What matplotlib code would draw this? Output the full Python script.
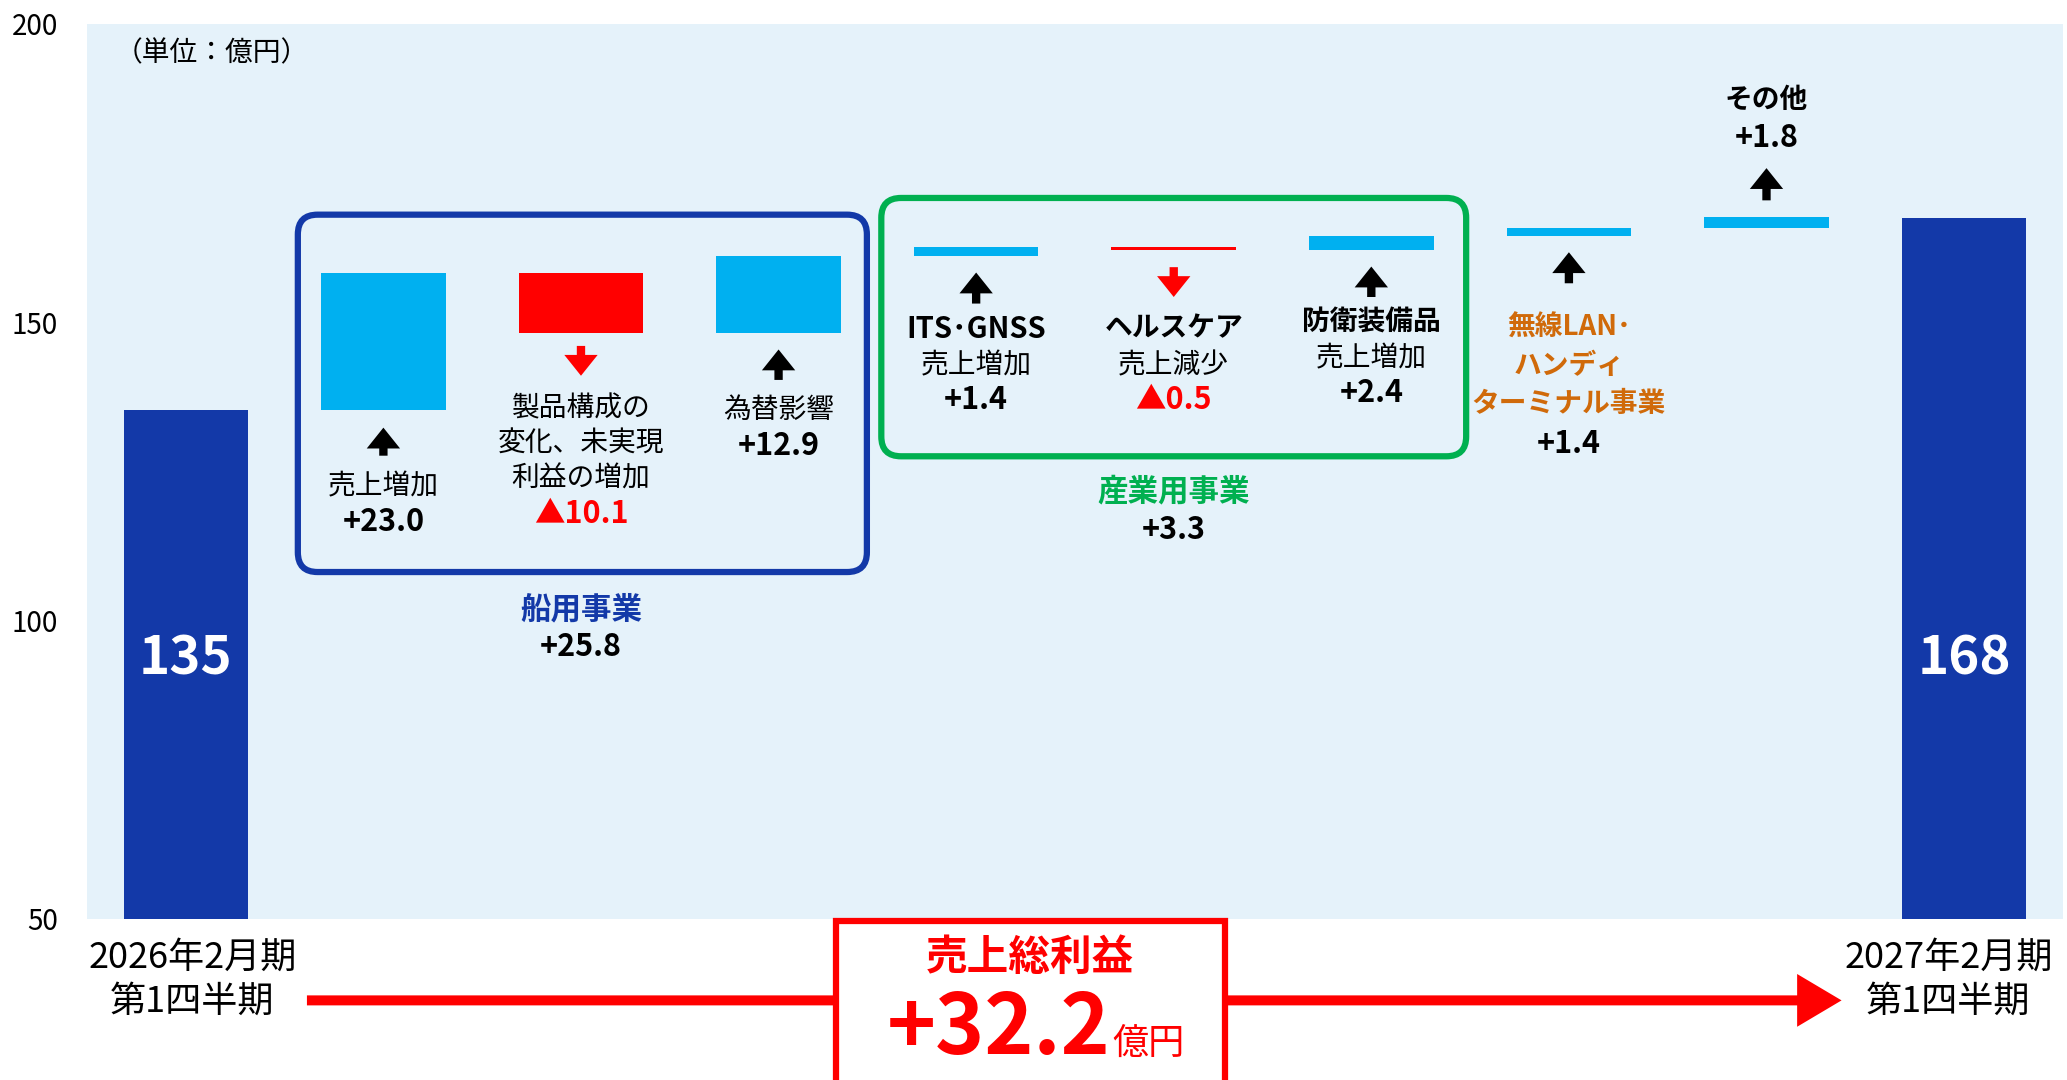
import matplotlib
matplotlib.use('Agg')
import numpy as np
import matplotlib.pyplot as plt
from matplotlib.patches import FancyBboxPatch, Rectangle

plt.rcParams['font.family'] = ['Noto Sans CJK JP', 'DejaVu Sans']

# data (億円)
categories = ['2026年2月期\n第1四半期', '売上増加', '製品構成の変化、未実現利益の増加',
              '為替影響', 'ITS･GNSS', 'ヘルスケア', '防衛装備品',
              '無線LAN･ハンディターミナル事業', 'その他', '2027年2月期\n第1四半期']
start_value = 135.3
deltas = [23.0, -10.1, 12.9, 1.4, -0.5, 2.4, 1.4, 1.8]
end_value = 167.5
end_labels = ['135', '168']
delta_labels = ['+23.0', '▲10.1', '+12.9', '+1.4', '▲0.5', '+2.4', '+1.4', '+1.8']
total_label = '+32.2'
marine_total = '+25.8'
industrial_total = '+3.3'

# colours
c_end = '#1339A8'
c_up = '#00B0F0'
c_down = '#FF0000'
c_bg = '#E5F2FA'
c_green = '#00B050'
c_orange = '#D06A0A'

fig = plt.figure(figsize=(20.67, 10.8), dpi=100)
ax = fig.add_axes([0.0421, 0.1494, 0.9559, 0.8286])
ax.set_facecolor(c_bg)
for s in ax.spines.values():
    s.set_visible(False)

x = np.arange(len(categories))
levels = start_value + np.cumsum(deltas)
prev = np.concatenate([[start_value], levels[:-1]])
bottoms = np.minimum(prev, levels)
heights = np.abs(np.array(deltas))
colors = [c_up if d > 0 else c_down for d in deltas]

bw = 0.63
ax.bar(x[0], start_value, width=bw, color=c_end, zorder=2)
ax.bar(x[-1], end_value, width=bw, color=c_end, zorder=2)
ax.bar(x[1:-1], heights, bottom=bottoms, width=bw, color=colors, zorder=2)

ax.set_xlim(-0.5, 9.5)
ax.set_ylim(50, 200)
ax.set_xticks([])
ax.set_yticks([50, 100, 150, 200])
ax.tick_params(axis='y', length=0, pad=21, labelsize=20)

# big numbers inside the end bars
ax.text(x[0], 93.5, end_labels[0], ha='center', va='center', color='white',
        fontsize=38, fontweight='bold', zorder=3)
ax.text(x[-1], 93.5, end_labels[1], ha='center', va='center', color='white',
        fontsize=38, fontweight='bold', zorder=3)

ax.text(-0.36, 195.1, '（単位：億円）', ha='left', va='center', fontsize=20)

# arrows
def arrow(xp, ytail, ytip, col='black'):
    ax.annotate('', xy=(xp, ytip), xytext=(xp, ytail),
                arrowprops=dict(arrowstyle='simple,head_length=0.75,head_width=1.2,tail_width=0.3',
                                mutation_scale=20, lw=0, color=col,
                                shrinkA=0, shrinkB=0), zorder=4)

def label(xp, yp, s, col='black', size=20, bold=False):
    ax.text(xp, yp, s, ha='center', va='center', color=col, fontsize=size,
            fontweight='bold' if bold else 'normal', zorder=4)

# 船用事業
arrow(1, 127.6, 132.3)
label(1, 122.5, '売上増加')
label(1, 116.5, delta_labels[0], size=22, bold=True)
arrow(2, 146.0, 141.0, c_down)
label(2, 135.5, '製品構成の')
label(2, 129.6, '変化、未実現')
label(2, 123.8, '利益の増加')
label(2, 117.8, delta_labels[1], col=c_down, size=22, bold=True)
arrow(3, 140.3, 145.4)
label(3, 135.3, '為替影響')
label(3, 129.3, delta_labels[2], size=22, bold=True)
label(2, 101.9, '船用事業', col=c_end, size=22, bold=True)
label(2, 95.5, marine_total, size=22, bold=True)

# 産業用事業
arrow(4, 153.1, 158.3)
label(4, 148.8, 'ITS･GNSS', size=21, bold=True)
label(4, 142.8, '売上増加')
label(4, 137.0, delta_labels[3], size=22, bold=True)
arrow(5, 159.2, 154.2, c_down)
label(5, 149.0, 'ヘルスケア', bold=True)
label(5, 142.8, '売上減少')
label(5, 137.0, delta_labels[4], col=c_down, size=22, bold=True)
arrow(6, 154.2, 159.3)
label(6, 149.9, '防衛装備品', bold=True)
label(6, 143.9, '売上増加')
label(6, 138.1, delta_labels[5], size=22, bold=True)
label(5, 121.6, '産業用事業', col=c_green, size=22, bold=True)
label(5, 115.2, industrial_total, size=22, bold=True)

# 無線LAN
arrow(7, 156.5, 161.7)
label(7, 149.0, '無線LAN･', col=c_orange, bold=True)
label(7, 142.6, 'ハンディ', col=c_orange, bold=True)
label(7, 136.2, 'ターミナル事業', col=c_orange, bold=True)
label(7, 129.5, delta_labels[6], size=22, bold=True)

# その他
label(8, 187.2, 'その他', bold=True)
label(8, 180.8, delta_labels[7], size=22, bold=True)
arrow(8, 170.4, 175.8)

# rounded group boxes (keep corners round in pixels)
fig.canvas.draw()
bb = ax.get_window_extent()
aspect = (150.0 / bb.height) / (10.0 / bb.width)
marine_box = FancyBboxPatch((0.567, 108.1), 3.447 - 0.567, 168.0 - 108.1,
                            boxstyle='round,pad=0,rounding_size=0.1',
                            mutation_aspect=aspect, fill=False, ec=c_end, lw=4.5, zorder=3)
ax.add_patch(marine_box)
ind_box = FancyBboxPatch((3.52, 127.5), 6.48 - 3.52, 170.8 - 127.5,
                         boxstyle='round,pad=0,rounding_size=0.1',
                         mutation_aspect=aspect, fill=False, ec=c_green, lw=4.5, zorder=3)
ax.add_patch(ind_box)

# bottom: period labels, red arrow and total box
ax.text(0.033, 43.4, '2026年2月期', ha='center', va='center', fontsize=26, clip_on=False)
ax.text(0.033, 36.1, '第1四半期', ha='center', va='center', fontsize=26, clip_on=False)
ax.text(8.92, 43.4, '2027年2月期', ha='center', va='center', fontsize=26, clip_on=False)
ax.text(8.92, 36.1, '第1四半期', ha='center', va='center', fontsize=26, clip_on=False)

ax.annotate('', xy=(8.38, 36.3), xytext=(0.613, 36.3),
            arrowprops=dict(arrowstyle='simple,head_length=1.6,head_width=1.9,tail_width=0.36',
                            mutation_scale=20, lw=0, color=c_down,
                            shrinkA=0, shrinkB=0),
            annotation_clip=False, zorder=3)
total_box = Rectangle((3.293, 20.0), 5.26 - 3.293, 49.6 - 20.0, facecolor='white',
                      edgecolor=c_down, lw=4.5, clip_on=False, zorder=5)
ax.add_patch(total_box)
ax.text(4.27, 43.4, '売上総利益', ha='center', va='center', color=c_down,
        fontsize=30, fontweight='bold', clip_on=False, zorder=6)
ax.text(4.68, 27.3, total_label, ha='right', va='baseline', color=c_down,
        fontsize=60, fontweight='bold', clip_on=False, zorder=6)
ax.text(4.69, 27.3, '億円', ha='left', va='baseline', color=c_down,
        fontsize=26, clip_on=False, zorder=6)

plt.savefig('out.png', dpi=100)
